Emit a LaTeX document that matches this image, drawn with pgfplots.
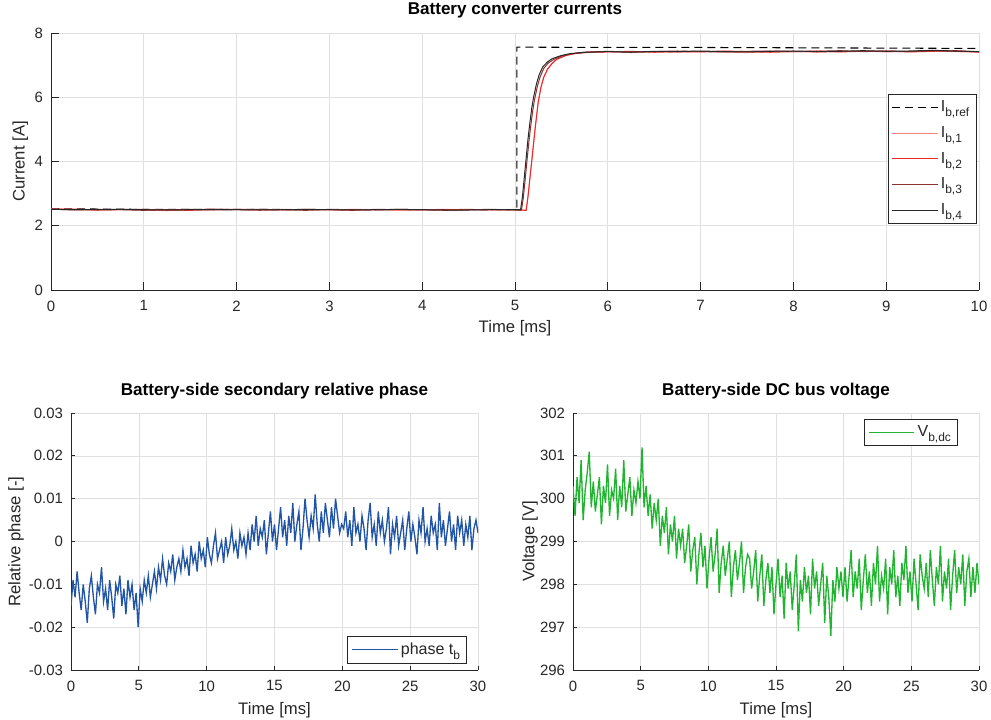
\documentclass[border=0pt]{standalone}
\usepackage{fontspec}
\setmainfont{Liberation Sans}
\usepackage{pgfplots}
\usepackage{pgfplotstable}
\pgfplotsset{compat=1.18}

\definecolor{axgray}{RGB}{38,38,38}
\definecolor{ibone}{RGB}{255,130,130}
\definecolor{ibtwo}{RGB}{235,40,40}
\definecolor{ibthree}{RGB}{140,50,50}
\definecolor{ibfour}{RGB}{40,40,40}
\definecolor{phaseblue}{RGB}{34,85,165}
\definecolor{dcgreen}{RGB}{32,180,48}

\newcommand\sub[1]{\raisebox{-0.6ex}{\fontsize{9}{10}\selectfont #1}}

% sampled every 0.15 ms, 0 ... 30 ms
\pgfplotstableread[row sep=\\,header=false]{
-0.015\\ -0.009\\ -0.013\\ -0.007\\ -0.012\\ -0.016\\ -0.010\\ -0.014\\ -0.019\\ -0.011\\
-0.008\\ -0.013\\ -0.017\\ -0.010\\ -0.012\\ -0.006\\ -0.014\\ -0.011\\ -0.016\\ -0.009\\
-0.013\\ -0.018\\ -0.010\\ -0.012\\ -0.008\\ -0.015\\ -0.011\\ -0.017\\ -0.009\\ -0.013\\
-0.010\\ -0.016\\ -0.012\\ -0.020\\
-0.011\\ -0.014\\ -0.009\\ -0.012\\ -0.008\\ -0.013\\ -0.010\\ -0.007\\ -0.011\\ -0.006\\
-0.009\\ -0.004\\ -0.008\\ -0.010\\ -0.005\\ -0.007\\ -0.003\\ -0.009\\ -0.006\\ -0.004\\
-0.007\\ -0.002\\ -0.006\\ -0.004\\ -0.008\\ -0.001\\ -0.005\\ -0.003\\ -0.007\\ 0.000\\
-0.004\\ -0.002\\ -0.006\\ 0.001\\ -0.003\\ -0.005\\ -0.001\\ 0.002\\ -0.004\\ -0.002\\
0.000\\ -0.005\\ 0.001\\ -0.003\\ -0.001\\ 0.003\\ -0.002\\ 0.000\\ -0.004\\ 0.002\\
-0.001\\ 0.001\\ -0.003\\
0.002\\ -0.002\\ 0.004\\ 0.000\\ 0.006\\ -0.001\\ 0.003\\ 0.001\\ 0.005\\ -0.003\\
0.002\\ 0.007\\ 0.000\\ 0.004\\ -0.002\\ 0.003\\ 0.008\\ 0.001\\ 0.005\\ -0.001\\
0.006\\ 0.002\\ 0.009\\ 0.000\\ 0.004\\ 0.007\\ -0.002\\ 0.003\\ 0.010\\ 0.005\\
0.001\\ 0.006\\ 0.003\\ 0.011\\ 0.004\\ 0.000\\ 0.007\\ 0.002\\ 0.009\\ 0.005\\
0.001\\ 0.008\\ 0.003\\ 0.010\\ 0.006\\ 0.002\\ 0.004\\
0.003\\ 0.007\\ 0.001\\ 0.005\\ -0.001\\ 0.008\\ 0.002\\ 0.004\\ 0.000\\ 0.006\\
0.003\\ -0.002\\ 0.005\\ 0.009\\ 0.001\\ 0.004\\ -0.001\\ 0.007\\ 0.002\\ 0.005\\
0.000\\ 0.003\\ 0.008\\ -0.003\\ 0.004\\ 0.001\\ 0.006\\ -0.001\\ 0.002\\ 0.005\\
-0.002\\ 0.003\\ 0.007\\ 0.000\\ 0.004\\ 0.001\\ -0.003\\ 0.005\\ 0.002\\ 0.008\\
0.000\\ 0.003\\ -0.001\\ 0.006\\ 0.002\\ 0.004\\ -0.002\\ 0.009\\ 0.001\\ 0.005\\
-0.001\\ 0.003\\ 0.007\\ 0.000\\ 0.004\\ -0.002\\ 0.006\\ 0.002\\ 0.005\\ -0.001\\
0.004\\ 0.001\\ 0.006\\ -0.002\\ 0.003\\ 0.005\\ 0.002\\
}\phasedata

\pgfplotstableread[row sep=\\,header=false]{
300.3\\ 299.6\\ 300.5\\ 299.9\\ 300.9\\ 299.5\\ 300.2\\ 300.6\\ 301.1\\ 299.8\\
300.4\\ 299.7\\ 300.1\\ 300.5\\ 299.4\\ 300.3\\ 299.9\\ 300.8\\ 299.6\\ 300.2\\
300.0\\ 300.7\\ 299.5\\ 300.3\\ 299.8\\ 300.9\\ 299.7\\ 300.1\\ 300.5\\ 299.6\\
300.2\\ 299.9\\ 300.4\\ 300.0\\
301.2\\ 299.8\\ 300.3\\ 299.6\\ 300.1\\ 299.3\\ 299.9\\ 299.5\\ 300.0\\ 298.9\\
299.6\\ 299.2\\ 299.8\\ 298.7\\ 299.4\\ 299.0\\ 299.6\\ 298.6\\ 299.3\\ 298.9\\
299.3\\ 298.5\\ 298.9\\ 299.4\\ 298.3\\ 298.8\\ 299.1\\ 298.0\\ 298.7\\ 299.2\\
298.4\\ 298.9\\ 297.9\\ 298.6\\ 299.1\\ 298.3\\ 298.7\\ 299.3\\ 297.8\\ 298.5\\
298.9\\ 298.2\\ 298.6\\ 299.0\\ 297.7\\ 298.4\\ 298.8\\ 298.1\\ 298.5\\ 299.0\\
297.8\\ 298.4\\ 298.7\\
298.6\\ 297.9\\ 298.3\\ 298.8\\ 297.6\\ 298.2\\ 298.7\\ 297.5\\ 298.1\\ 298.5\\
297.8\\ 298.4\\ 297.3\\ 298.0\\ 298.6\\ 297.7\\ 298.2\\ 297.2\\ 298.5\\ 297.9\\
298.3\\ 297.4\\ 298.0\\ 298.7\\ 296.9\\ 298.1\\ 297.6\\ 298.4\\ 297.8\\ 298.2\\
297.3\\ 298.6\\ 297.9\\ 298.3\\ 297.5\\ 298.0\\ 298.5\\ 297.1\\ 298.2\\ 297.7\\
296.8\\ 298.1\\ 297.6\\ 298.4\\ 297.9\\ 298.3\\ 297.7\\
298.4\\ 297.6\\ 298.2\\ 298.8\\ 297.7\\ 298.3\\ 297.9\\ 298.6\\ 297.4\\ 298.1\\
298.7\\ 297.8\\ 298.3\\ 297.5\\ 298.5\\ 298.0\\ 298.9\\ 297.6\\ 298.2\\ 297.9\\
298.6\\ 297.3\\ 298.4\\ 298.0\\ 298.8\\ 297.7\\ 298.2\\ 297.5\\ 298.5\\ 298.1\\
298.9\\ 297.8\\ 298.3\\ 297.6\\ 298.6\\ 298.0\\ 297.4\\ 298.7\\ 298.2\\ 297.9\\
298.5\\ 297.7\\ 298.8\\ 298.1\\ 297.5\\ 298.4\\ 298.0\\ 298.9\\ 297.6\\ 298.3\\
297.9\\ 298.6\\ 297.4\\ 298.2\\ 298.8\\ 297.8\\ 298.4\\ 298.0\\ 298.7\\ 297.5\\
298.3\\ 298.6\\ 297.7\\ 298.4\\ 297.8\\ 298.5\\ 298.0\\
}\vdcdata

\pgfplotsset{
  matstyle/.style={
    scale only axis,
    axis x line*=bottom, axis y line*=left,
    axis line style={axgray, line width=0.6pt},
    tick style={axgray, line width=0.6pt},
    tick align=inside,
    grid=major,
    major grid style={black!12, line width=0.5pt},
    /pgf/number format/assume math mode=true,
    tick label style={font=\fontsize{11.2}{13}\selectfont, text=axgray},
    xticklabel style={yshift=-4.5pt},
    yticklabel style={xshift=-2.5pt},
    label style={font=\fontsize{12.5}{14}\selectfont, text=axgray},
    title style={font=\fontsize{12.8}{14}\selectfont\bfseries, anchor=center},
    legend style={draw=axgray, fill=white, font=\fontsize{12}{13}\selectfont, text=axgray,
      inner ysep=3pt, inner xsep=3pt, row sep=2pt},
    legend cell align=left,
    legend image code/.code={\draw[#1] (0pt,0pt) -- (34pt,0pt);},
  }
}

\begin{document}
\begin{tikzpicture}
\path[use as bounding box] (0,0) rectangle (743.25pt,539.25pt);

\begin{axis}[matstyle,
  at={(38.25pt,321.75pt)}, anchor=south west,
  width=696pt, height=192.75pt,
  xmin=0, xmax=10, ymin=0, ymax=8,
  xtick={0,1,...,10}, ytick={0,2,4,6,8},
  title={Battery converter currents},
  title style={at={(0.5,1.058)}},
  xlabel={Time [ms]}, ylabel={Current [A]},
  xlabel style={at={(axis description cs:0.5,-0.148)}, anchor=center},
  ylabel style={at={(axis description cs:-0.033,0.5)}, anchor=center},
  legend style={at={(0.997,0.763)}, anchor=north east, row sep=5.5pt},
  major tick length=6pt,
]
\addplot[black, line width=0.8pt, dash pattern=on 6pt off 3.75pt] coordinates {
(0,2.53) (1,2.51) (2,2.51) (3,2.50) (4,2.50) (5.02,2.50) (5.02,7.56) (6,7.55) (7,7.55) (8,7.54) (9,7.53) (10,7.52)};
\addplot[ibone, line width=0.75pt] coordinates {
(0,2.53) (0.25,2.50) (0.5,2.48) (0.75,2.51) (1,2.49) (1.25,2.47) (1.5,2.50) (1.75,2.52) (2,2.50) (2.25,2.48) (2.5,2.51) (2.75,2.50) (3,2.49) (3.25,2.51) (3.5,2.50) (3.75,2.48) (4,2.50) (4.25,2.51) (4.5,2.49) (4.75,2.50) (5,2.49) (5.12,2.49) (5.14,2.93) (5.16,3.48) (5.18,4.03) (5.20,4.58) (5.22,5.12) (5.25,5.86) (5.28,6.33) (5.31,6.63) (5.35,6.88) (5.40,7.06) (5.45,7.19) (5.55,7.31) (5.65,7.37) (5.8,7.41) (6,7.42) (6.25,7.39) (6.5,7.42) (6.75,7.40) (7,7.43) (7.25,7.41) (7.5,7.39) (7.75,7.42) (8,7.43) (8.25,7.40) (8.5,7.42) (8.75,7.44) (9,7.41) (9.25,7.43) (9.5,7.44) (9.75,7.42) (10,7.40)};
\addplot[ibtwo, line width=0.75pt] coordinates {
(0,2.51) (0.25,2.52) (0.5,2.49) (0.75,2.50) (1,2.51) (1.25,2.49) (1.5,2.48) (1.75,2.50) (2,2.51) (2.25,2.50) (2.5,2.49) (2.75,2.51) (3,2.50) (3.25,2.48) (3.5,2.51) (3.75,2.50) (4,2.49) (4.25,2.50) (4.5,2.51) (4.75,2.49) (5,2.50) (5.12,2.48) (5.14,2.90) (5.16,3.45) (5.18,4.00) (5.20,4.55) (5.22,5.10) (5.25,5.84) (5.28,6.31) (5.31,6.62) (5.35,6.87) (5.40,7.05) (5.45,7.18) (5.55,7.30) (5.65,7.36) (5.8,7.40) (6,7.41) (6.25,7.43) (6.5,7.40) (6.75,7.42) (7,7.41) (7.25,7.44) (7.5,7.42) (7.75,7.40) (8,7.42) (8.25,7.44) (8.5,7.41) (8.75,7.43) (9,7.44) (9.25,7.41) (9.5,7.43) (9.75,7.45) (10,7.41)};
\addplot[ibthree, line width=0.75pt] coordinates {
(0,2.52) (0.25,2.49) (0.5,2.51) (0.75,2.50) (1,2.48) (1.25,2.50) (1.5,2.51) (1.75,2.49) (2,2.50) (2.25,2.51) (2.5,2.50) (2.75,2.48) (3,2.51) (3.25,2.50) (3.5,2.49) (3.75,2.51) (4,2.50) (4.25,2.48) (4.5,2.50) (4.75,2.51) (5,2.49) (5.07,2.49) (5.09,2.88) (5.11,3.45) (5.13,4.05) (5.15,4.62) (5.17,5.12) (5.19,5.56) (5.21,5.92) (5.24,6.33) (5.27,6.63) (5.31,6.90) (5.36,7.07) (5.42,7.18) (5.50,7.28) (5.60,7.35) (5.75,7.40) (6,7.43) (6.25,7.41) (6.5,7.42) (6.75,7.44) (7,7.42) (7.25,7.41) (7.5,7.43) (7.75,7.44) (8,7.42) (8.25,7.43) (8.5,7.45) (8.75,7.42) (9,7.44) (9.25,7.42) (9.5,7.45) (9.75,7.43) (10,7.42)};
\addplot[ibfour, line width=0.75pt] coordinates {
(0,2.51) (0.25,2.50) (0.5,2.50) (0.75,2.51) (1,2.50) (1.25,2.49) (1.5,2.50) (1.75,2.51) (2,2.50) (2.25,2.49) (2.5,2.50) (2.75,2.51) (3,2.50) (3.25,2.49) (3.5,2.50) (3.75,2.51) (4,2.50) (4.25,2.49) (4.5,2.49) (4.75,2.50) (5,2.50) (5.06,2.50) (5.08,2.90) (5.10,3.50) (5.12,4.10) (5.14,4.70) (5.16,5.20) (5.18,5.65) (5.20,6.00) (5.23,6.40) (5.26,6.70) (5.30,6.95) (5.35,7.10) (5.40,7.20) (5.50,7.30) (5.60,7.36) (5.75,7.40) (6,7.42) (6.25,7.40) (6.5,7.43) (6.75,7.42) (7,7.44) (7.25,7.42) (7.5,7.41) (7.75,7.43) (8,7.44) (8.25,7.42) (8.5,7.43) (8.75,7.45) (9,7.43) (9.25,7.44) (9.5,7.46) (9.75,7.44) (10,7.42)};
\legend{I\sub{b,ref}, I\sub{b,1}, I\sub{b,2}, I\sub{b,3}, I\sub{b,4}}
\end{axis}

\begin{axis}[matstyle,
  at={(53.25pt,36.75pt)}, anchor=south west,
  width=305.25pt, height=192.75pt,
  xmin=0, xmax=30, ymin=-0.03, ymax=0.03,
  xtick={0,5,...,30}, ytick={-0.03,-0.02,-0.01,0,0.01,0.02,0.03},
  scaled y ticks=false,
  yticklabel style={/pgf/number format/fixed, /pgf/number format/precision=2},
  title={Battery-side secondary relative phase},
  title style={at={(0.5,1.054)}},
  xlabel={Time [ms]}, ylabel={Relative phase [-]},
  xlabel style={at={(axis description cs:0.5,-0.156)}, anchor=center},
  ylabel style={at={(axis description cs:-0.135,0.5)}, anchor=center},
  legend style={at={(0.973,0.027)}, anchor=south east},
  major tick length=3pt,
]
\addplot[phaseblue, line width=1pt] table[x expr=\coordindex*0.15, y index=0] {\phasedata};
\legend{phase t\sub{b}}
\end{axis}

\begin{axis}[matstyle,
  at={(429.75pt,36.75pt)}, anchor=south west,
  width=304.5pt, height=192.75pt,
  xmin=0, xmax=30, ymin=296, ymax=302,
  xtick={0,5,...,30}, ytick={296,297,...,302},
  title={Battery-side DC bus voltage},
  title style={at={(0.5,1.054)}},
  xlabel={Time [ms]}, ylabel={Voltage [V]},
  xlabel style={at={(axis description cs:0.5,-0.156)}, anchor=center},
  ylabel style={at={(axis description cs:-0.106,0.5)}, anchor=center},
  legend style={at={(0.948,0.977)}, anchor=north east},
  major tick length=3pt,
]
\addplot[dcgreen, line width=1pt] table[x expr=\coordindex*0.15, y index=0] {\vdcdata};
\legend{V\sub{b,dc}}
\end{axis}
\end{tikzpicture}
\end{document}
